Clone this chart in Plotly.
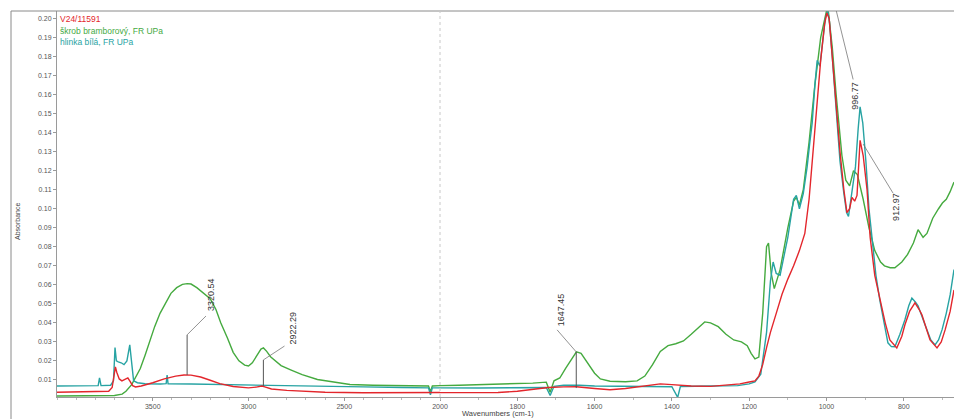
import plotly.graph_objects as go

# ---------------- data ----------------
green_name = "škrob bramborový, FR UPa"
green_wn = [4000, 3900, 3800, 3740, 3700, 3660, 3640, 3610, 3590, 3565, 3540, 3514, 3490, 3462,
            3435, 3405, 3375, 3345, 3320, 3300, 3270, 3240, 3200, 3170, 3145, 3110, 3080, 3050,
            3020, 3000, 2980, 2955, 2935, 2922, 2905, 2885, 2860, 2830, 2780, 2720, 2640, 2560,
            2470, 2350, 2200, 2060, 2050, 2040, 1950, 1850, 1760, 1725, 1715, 1705, 1690, 1675,
            1660, 1647, 1635, 1620, 1600, 1585, 1560, 1520, 1490, 1470, 1450, 1430, 1410, 1390,
            1370, 1350, 1330, 1315, 1300, 1280, 1260, 1240, 1220, 1205, 1195, 1185, 1175, 1165,
            1155, 1150, 1143, 1135, 1120, 1100, 1085, 1078, 1070, 1060, 1045, 1030, 1015, 1000,
            995, 985, 975, 960, 950, 940, 930, 920, 905, 890, 875, 860, 850, 835, 823, 805, 790,
            775, 763, 750, 740, 725, 710, 700, 690, 680, 670]
green_ab = [0.0015, 0.0015, 0.0016, 0.0017, 0.0018, 0.0025, 0.004, 0.0075, 0.011, 0.016, 0.023,
            0.031, 0.038, 0.045, 0.050, 0.0555, 0.0585, 0.0602, 0.0606, 0.0604, 0.0585, 0.0562,
            0.0527, 0.047, 0.040, 0.032, 0.0245, 0.020, 0.0178, 0.0173, 0.019, 0.023, 0.0262,
            0.0268, 0.025, 0.0222, 0.020, 0.0175, 0.0153, 0.0128, 0.0102, 0.0088, 0.0076, 0.0072,
            0.0070, 0.0068, 0.0038, 0.0068, 0.0072, 0.0077, 0.0083, 0.0088, 0.0035, 0.0095,
            0.011, 0.016, 0.021, 0.0247, 0.024, 0.0195, 0.0135, 0.0105, 0.0093, 0.009, 0.0095,
            0.012, 0.018, 0.025, 0.028, 0.029, 0.0305, 0.034, 0.038, 0.0405, 0.040, 0.038, 0.034,
            0.031, 0.030, 0.028, 0.024, 0.021, 0.022, 0.045, 0.080, 0.082, 0.066, 0.058, 0.068,
            0.090, 0.104, 0.106, 0.102, 0.110, 0.135, 0.165, 0.190, 0.204, 0.2035, 0.185, 0.16,
            0.128, 0.115, 0.112, 0.12, 0.118, 0.105, 0.09, 0.078, 0.072, 0.070, 0.069, 0.069,
            0.072, 0.076, 0.082, 0.089, 0.085, 0.087, 0.095, 0.100, 0.103, 0.105, 0.109, 0.114]

cyan_name = "hlinka bílá, FR UPa"
cyan_wn = [4000, 3850, 3785, 3778, 3770, 3720, 3705, 3697, 3690, 3680, 3665, 3650, 3635, 3620,
           3610, 3600, 3580, 3540, 3460, 3430, 3425, 3420, 3300, 3100, 2900, 2700, 2400, 2200,
           2060, 2050, 2040, 1900, 1800, 1725, 1715, 1705, 1680, 1640, 1600, 1500, 1400, 1385,
           1378, 1300, 1230, 1200, 1185, 1170, 1155, 1145, 1138, 1130, 1120, 1100, 1085, 1078,
           1070, 1060, 1050, 1043, 1037, 1030, 1024, 1017, 1010, 1003, 997, 993, 985, 975, 965,
           955, 948, 943, 935, 925, 918, 913, 906, 898, 890, 882, 872, 862, 850, 841, 832, 823,
           810, 797, 787, 779, 770, 763, 745, 730, 719, 710, 701, 690, 680, 670]
cyan_ab = [0.0068, 0.0068, 0.0070, 0.011, 0.0070, 0.0072, 0.0095, 0.027, 0.020, 0.0195, 0.019,
           0.018, 0.020, 0.0284, 0.018, 0.0095, 0.0085, 0.0080, 0.0078, 0.0080, 0.0125, 0.0079,
           0.0078, 0.0074, 0.0071, 0.0066, 0.0063, 0.0060, 0.0058, 0.0021, 0.0058, 0.0057,
           0.0058, 0.0060, 0.0018, 0.0066, 0.0072, 0.0072, 0.0068, 0.0066, 0.0064, 0.0008,
           0.0065, 0.0068, 0.0070, 0.0079, 0.0089, 0.013, 0.035, 0.062, 0.072, 0.066, 0.065,
           0.085, 0.105, 0.107, 0.100, 0.108, 0.122, 0.135, 0.145, 0.165, 0.178, 0.175, 0.188,
           0.200, 0.204, 0.200, 0.180, 0.150, 0.125, 0.108, 0.098, 0.096, 0.108, 0.122, 0.142,
           0.1536, 0.145, 0.125, 0.100, 0.083, 0.065, 0.052, 0.038, 0.0295, 0.0275, 0.0274,
           0.034, 0.0416, 0.049, 0.053, 0.051, 0.049, 0.039, 0.031, 0.0284, 0.031, 0.0363,
           0.045, 0.0547, 0.068]

red_name = "V24/11591"
red_wn = [4000, 3800, 3730, 3712, 3700, 3695, 3688, 3675, 3661, 3645, 3630, 3620, 3605, 3590,
          3560, 3500, 3440, 3380, 3337, 3300, 3250, 3200, 3150, 3080, 3000, 2960, 2930, 2915,
          2880, 2800, 2700, 2600, 2400, 2200, 2000, 1850, 1800, 1760, 1720, 1680, 1647, 1600,
          1560, 1520, 1470, 1430, 1400, 1350, 1300, 1250, 1224, 1200, 1185, 1175, 1165, 1155,
          1145, 1130, 1115, 1100, 1085, 1070, 1056, 1045, 1035, 1025, 1015, 1005, 999, 993, 985,
          975, 965, 955, 947, 940, 934, 927, 921, 913, 905, 895, 887, 875, 862, 848, 836, 818,
          805, 797, 785, 771, 760, 753, 740, 732, 714, 703, 693, 680, 670]
red_ab = [0.0035, 0.0037, 0.0040, 0.0060, 0.0155, 0.0168, 0.014, 0.0105, 0.0095, 0.0105, 0.011,
          0.0095, 0.0070, 0.0063, 0.0068, 0.0085, 0.0105, 0.0120, 0.0126, 0.0125, 0.0115,
          0.0098, 0.0080, 0.0065, 0.0058, 0.0062, 0.0068, 0.0063, 0.0052, 0.0045, 0.0040,
          0.0035, 0.0032, 0.0032, 0.0032, 0.0034, 0.0040, 0.0050, 0.0060, 0.0063, 0.0064,
          0.0055, 0.0048, 0.0055, 0.0070, 0.0079, 0.0075, 0.0068, 0.0066, 0.0072, 0.0079,
          0.0089, 0.0095, 0.012, 0.018, 0.027, 0.035, 0.045, 0.055, 0.063, 0.070, 0.078, 0.087,
          0.105, 0.130, 0.155, 0.178, 0.197, 0.203, 0.200, 0.180, 0.155, 0.130, 0.110, 0.098,
          0.100, 0.106, 0.104, 0.107, 0.136, 0.128, 0.110, 0.085, 0.065, 0.052, 0.040, 0.031,
          0.0268, 0.033, 0.039, 0.046, 0.0505, 0.047, 0.0442, 0.036, 0.031, 0.0268, 0.030,
          0.0363, 0.046, 0.0573]

x_hi_ticks = [3500, 3000, 2500, 2000]
x_lo_ticks = [1800, 1600, 1400, 1200, 1000, 800]
y_ticks = [0.01, 0.02, 0.03, 0.04, 0.05, 0.06, 0.07, 0.08, 0.09, 0.10,
           0.11, 0.12, 0.13, 0.14, 0.15, 0.16, 0.17, 0.18, 0.19, 0.20]

peak_labels = ["3320.54", "2922.29", "1647.45", "996.77", "912.97"]
peak_wn = [3320.54, 2922.29, 1647.45, 996.77, 912.97]

# ---------------- layout geometry / styles ----------------
W, H = 954, 419
X0, XB = 57 / W, 440 / W
Y0, Y1 = 1 - 397 / H, 1 - 11 / H
RED, GREEN, CYAN = "#e3262c", "#45aa3f", "#27a3a3"
FONT = "Liberation Sans, Arial, sans-serif"

fig = go.Figure()
series = [(green_name, green_wn, green_ab, GREEN),
          (cyan_name, cyan_wn, cyan_ab, CYAN),
          (red_name, red_wn, red_ab, RED)]
for name, wn, ab, col in series:
    for xa in ("x", "x2"):
        fig.add_trace(go.Scatter(x=wn, y=ab, mode="lines", name=name, xaxis=xa, yaxis="y",
                                 line=dict(color=col, width=1.4), showlegend=False,
                                 hoverinfo="skip"))

axis_common = dict(showgrid=False, zeroline=False, showline=True, linecolor="#9a9a9a",
                   linewidth=1, ticks="outside", ticklen=3, tickcolor="#9a9a9a",
                   automargin=False,
                   tickfont=dict(size=7, color="#555", family=FONT),
                   minor=dict(ticks="outside", ticklen=2, tickcolor="#bbbbbb"))

fig.update_layout(
    width=W, height=H, autosize=False, margin=dict(l=0, r=0, t=0, b=0),
    paper_bgcolor="white", plot_bgcolor="white", hovermode=False,
    xaxis=dict(domain=[X0, XB], range=[4000, 2000], tickvals=x_hi_ticks,
               anchor="y", **axis_common),
    xaxis2=dict(domain=[XB, 1.0], range=[2000, 670], tickvals=x_lo_ticks,
                anchor="y", **axis_common),
    yaxis=dict(domain=[Y0, Y1], range=[0.001, 0.204], tickvals=y_ticks, tickformat=".2f",
               anchor="x", **axis_common),
)

# frame and scale-break line
fig.add_shape(type="line", xref="paper", yref="paper", x0=11 / W, x1=11 / W, y0=0, y1=Y1,
              line=dict(color="#8a8a8a", width=1))
fig.add_shape(type="line", xref="paper", yref="paper", x0=11 / W, x1=1, y0=Y1, y1=Y1,
              line=dict(color="#8a8a8a", width=1))
fig.add_shape(type="line", xref="paper", yref="paper", x0=XB, x1=XB, y0=Y0, y1=Y1,
              line=dict(color="#c8c8c8", width=1, dash="dot"))

# peak annotation leaders: (xref, vertical y0, vertical y1, end x, end y, label x, label y)
leaders = [("x", 0.0126, 0.0337, 3222, 0.0436, 3195, 0.0547),
           ("x", 0.0068, 0.0205, 2812, 0.0278, 2770, 0.0373),
           ("x2", 0.0057, 0.0247, 1697, 0.0363, 1686, 0.0468),
           ("x2", None, None, 931, 0.168, 926, 0.1595),
           ("x2", None, 0.134, 828, 0.1083, 820, 0.1010)]
for lab, wn, (xr, yv0, yv1, xe, ye, xl, yl) in zip(peak_labels, peak_wn, leaders):
    if yv0 is not None:
        fig.add_shape(type="line", xref=xr, yref="y", x0=wn, x1=wn, y0=yv0, y1=yv1,
                      line=dict(color="#555", width=1))
        fig.add_shape(type="line", xref=xr, yref="y", x0=wn, x1=xe, y0=yv1, y1=ye,
                      line=dict(color="#777", width=0.8))
    elif yv1 is not None:
        fig.add_shape(type="line", xref=xr, yref="y", x0=wn - 8, x1=xe, y0=yv1, y1=ye,
                      line=dict(color="#777", width=0.8))
    else:
        fig.add_shape(type="line", xref=xr, yref="y", x0=wn - 22, x1=xe, y0=0.2042, y1=ye,
                      line=dict(color="#777", width=0.8))
    fig.add_annotation(x=xl, y=yl, xref=xr, yref="y", text=lab, textangle=-90,
                       showarrow=False, xanchor="center", yanchor="middle",
                       font=dict(size=9, color="#333", family=FONT))

# sample names (in-plot legend)
for i, (name, col) in enumerate([(red_name, RED), (green_name, GREEN), (cyan_name, CYAN)]):
    fig.add_annotation(x=58 / W, y=1 - (19 + 11.5 * i) / H, xref="paper", yref="paper",
                       text=name, showarrow=False, xanchor="left", yanchor="middle",
                       font=dict(size=8.5, color=col, family=FONT))

# axis titles
fig.add_annotation(x=17 / W, y=1 - 222 / H, xref="paper", yref="paper", text="Absorbance",
                   textangle=-90, showarrow=False, xanchor="center", yanchor="middle",
                   font=dict(size=7, color="#444", family=FONT))
fig.add_annotation(x=498 / W, y=1 - 413 / H, xref="paper", yref="paper",
                   text="Wavenumbers (cm-1)", showarrow=False, xanchor="center",
                   yanchor="middle", font=dict(size=7.5, color="#444", family=FONT))

fig.write_html("out.html",
               config={"responsive": False, "displayModeBar": False, "staticPlot": True},
               post_script="document.documentElement.style.margin='0px';"
                           "document.body.style.margin='0px';"
                           "document.body.style.padding='0px';"
                           "document.documentElement.style.overflow='hidden';"
                           "document.body.style.overflow='hidden';")
